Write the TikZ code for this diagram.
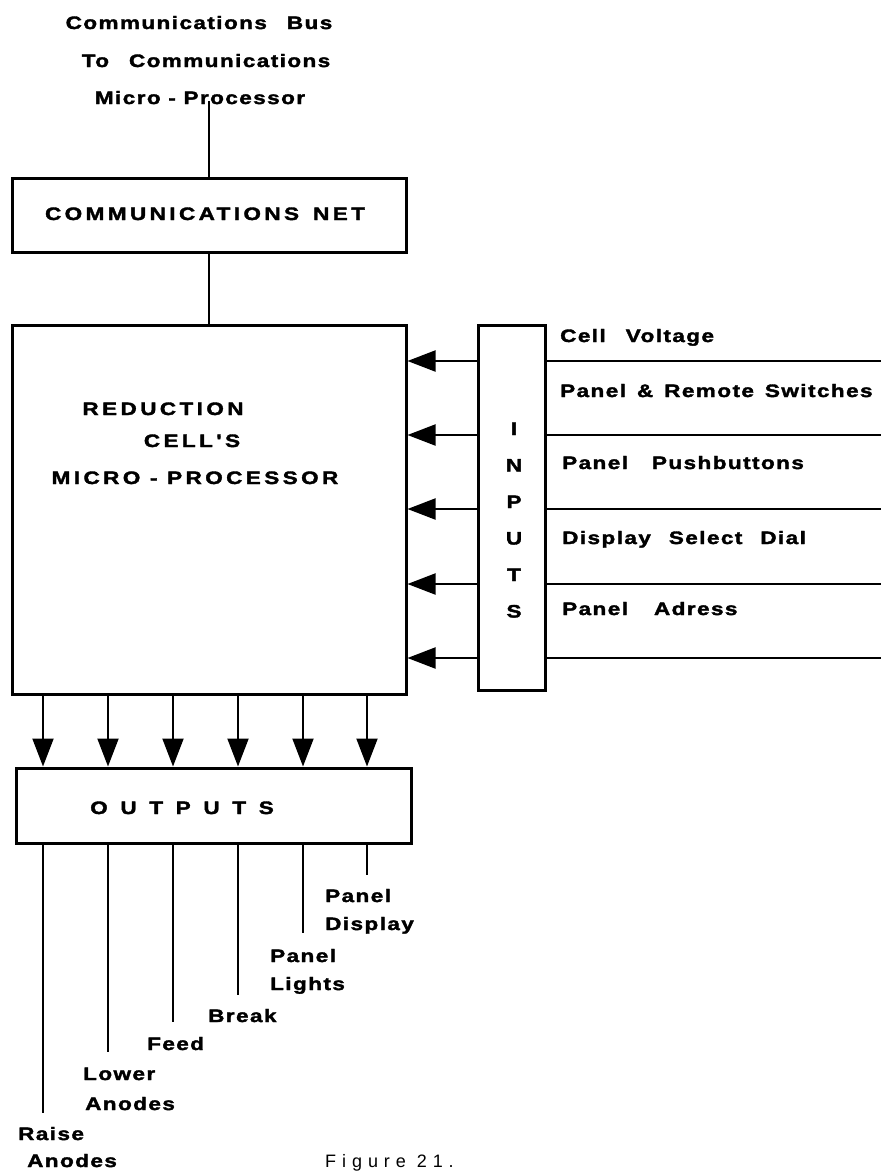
\documentclass[tikz,border=0pt]{standalone}
\usepackage{fontspec}
\setmainfont{Liberation Sans}
\newfontfamily\lblfont[LetterSpace=8,FakeStretch=1.25,BoldFeatures={FakeBold=2}]{Liberation Sans}
\newfontfamily\capfont[LetterSpace=19,FakeStretch=1.25,BoldFeatures={FakeBold=2}]{Liberation Sans}
\newfontfamily\figfont[LetterSpace=33]{Liberation Sans}
\usetikzlibrary{arrows.meta}
\newcommand\Wgap{\hspace{11pt}}
\tikzset{
  boxed/.style={draw, line width=3pt, inner sep=0pt},
  wire/.style={line width=2pt},
  arr/.style={wire, -{Triangle[length=28pt,width=21pt]}},
  lbl/.style={font=\lblfont\bfseries\fontsize{18}{28}\selectfont, inner sep=0pt, anchor=base west},
  captxt/.style={font=\capfont\bfseries\fontsize{18}{28}\selectfont, inner sep=0pt, anchor=base},
  figtxt/.style={font=\figfont\fontsize{18}{28}\selectfont, inner sep=0pt, anchor=base west},
}
\begin{document}
\begin{tikzpicture}[x=1pt,y=-1pt]
\useasboundingbox (0,0) rectangle (881,1173);
% title
\node[lbl, anchor=base] (t1) at (199,29) {Communications\hspace{20pt}Bus};
\node[lbl, anchor=base] (t2) at (206,67) {To\hspace{20pt}Communications};
\node[lbl, anchor=base] (t3) at (200,104) {Micro - Processor};
% boxes
\node[boxed, minimum width=394pt, minimum height=74pt] (comm) at (209,215) {};
\node[captxt] (commtxt) at (205,220) {COMMUNICATIONS\hspace{14pt}NET};
\node[boxed, minimum width=394pt, minimum height=369pt] (main) at (209,509.5) {};
\node[captxt] (m1) at (163,415) {REDUCTION};
\node[captxt] (m2) at (192,447) {CELL'S};
\node[captxt] (m3) at (195,484) {MICRO - PROCESSOR};
\node[boxed, minimum width=67pt, minimum height=365pt] (inputs) at (511.5,507.5) {};
\foreach \L/\yy [count=\i] in {I/435,N/471.5,P/508,U/544.5,T/581,S/617.5}
  \node[captxt] (in\i) at (514,\yy) {\L};
\node[boxed, minimum width=395pt, minimum height=75pt] (outputs) at (213.5,805.5) {};
\node[captxt] (outtxt) at (182,814) {O\hspace{3pt} U\hspace{3pt} T\hspace{3pt} P\hspace{3pt} U\hspace{3pt} T\hspace{3pt} S};
% connectors top
\coordinate (tb) at ([yshift=3pt]t3.south -| comm.north);
\draw[wire] (tb) -- (comm.north);
\draw[wire] (comm.south) -- (main.north);
% inputs
\foreach \yy [count=\i] in {361,435,509,584,658} {
  \coordinate (r\i) at (881,\yy);
  \draw[arr] (inputs.west |- r\i) -- (main.east |- r\i);
  \draw[wire] (inputs.east |- r\i) -- (r\i);
}
\node[lbl] (l1) at (560,342) {Cell\hspace{20pt}Voltage};
\node[lbl] (l2) at (560,397) {Panel\Wgap \&\Wgap Remote\Wgap Switches};
\node[lbl] (l3) at (562,469) {Panel\hspace{24pt}Pushbuttons};
\node[lbl] (l4) at (562,544) {Display\hspace{18pt}Select\hspace{18pt}Dial};
\node[lbl] (l5) at (562,615) {Panel\hspace{26pt}Adress};
% outputs
\foreach \xx/\ee [count=\i] in {43/1113,108/1052,173/1022,238/995,303/933,367/875} {
  \coordinate (o\i) at (\xx,\ee);
  \draw[arr] (main.south -| o\i) -- (outputs.north -| o\i);
  \draw[wire] (outputs.south -| o\i) -- (o\i);
}
\node[lbl] (raise1) at (18,1140) {Raise};
\node[lbl] (raise2) at (27,1167) {Anodes};
\node[lbl] (lower1) at (83,1080) {Lower};
\node[lbl] (lower2) at (85,1110) {Anodes};
\node[lbl] (feed) at (147,1050) {Feed};
\node[lbl] (break) at (208,1022) {Break};
\node[lbl] (pl1) at (270,962) {Panel};
\node[lbl] (pl2) at (270,990) {Lights};
\node[lbl] (pd1) at (325,902) {Panel};
\node[lbl] (pd2) at (325,930) {Display};
\node[figtxt] (figcap) at (325,1167) {Figure 21.};
\end{tikzpicture}
\end{document}
